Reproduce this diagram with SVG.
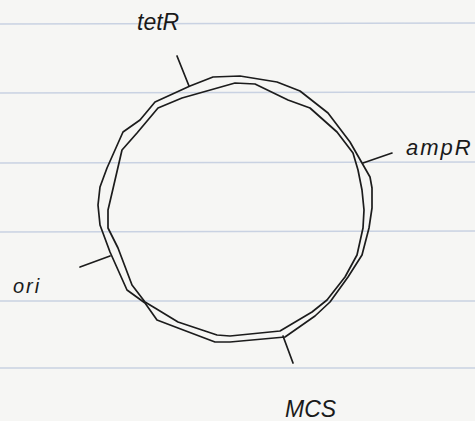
<svg xmlns="http://www.w3.org/2000/svg" width="475" height="421" viewBox="0 0 475 421">
  <style>
    .rule { stroke: #c9d2e2; stroke-width: 1.3; fill: none; }
    .ink { stroke: #1c1c1c; stroke-width: 1.7; fill: none; stroke-linejoin: round; stroke-linecap: round; }
    .lbl { font-family: "Liberation Sans", Arial, sans-serif; font-style: italic; fill: #1a1a1a; }
  </style>
  <rect x="0" y="0" width="475" height="421" fill="#f6f6f4"/>
  <g id="paper-lines">
    <line class="rule" x1="0" y1="24" x2="475" y2="23"/>
    <line class="rule" x1="0" y1="93" x2="475" y2="92"/>
    <line class="rule" x1="0" y1="163" x2="475" y2="162"/>
    <line class="rule" x1="0" y1="232" x2="475" y2="231"/>
    <line class="rule" x1="0" y1="301" x2="475" y2="301"/>
    <line class="rule" x1="0" y1="368" x2="475" y2="368"/>
  </g>
  <g id="plasmid">
    <polygon class="ink" points="190,86 213,77 240,76 277,82 300,91 328,113 350,142 362,163 370,177 372,188 372,208 369,228 362,255 348,277 330,302 315,316 285,337 230,342 215,342 178,328 157,320 145,303 127,290 110,252 100,225 98,205 100,187 107,168 123,132 140,120 155,102"/>
    <polygon class="ink" points="235,83 255,84 288,100 310,108 337,132 353,153 358,170 362,190 364,210 363,228 357,255 345,277 327,300 312,312 280,331 230,336 217,335 178,322 155,308 145,302 132,285 118,248 108,228 108,210 112,193 122,150 137,133 158,108 182,98"/>
  </g>
  <g id="connectors">
    <line class="ink" x1="177" y1="56" x2="189" y2="86"/>
    <line class="ink" x1="363" y1="163" x2="392" y2="153"/>
    <line class="ink" x1="80" y1="267" x2="110" y2="256"/>
    <line class="ink" x1="283" y1="336" x2="293" y2="363"/>
  </g>
  <g id="tetR"><text class="lbl" x="137" y="30" font-size="23">tetR</text></g>
  <g id="ampR"><text class="lbl" x="406" y="155" font-size="22" letter-spacing="2">ampR</text></g>
  <g id="ori"><text class="lbl" x="13" y="293" font-size="20" letter-spacing="2">ori</text></g>
  <g id="MCS"><text class="lbl" x="285" y="417" font-size="23">MCS</text></g>
</svg>
